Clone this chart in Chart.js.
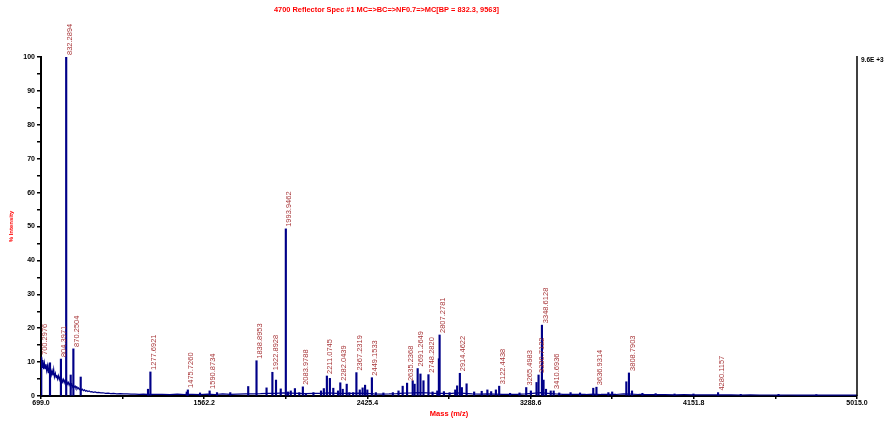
<!DOCTYPE html>
<html lang="en">
<head>
<meta charset="UTF-8">
<title>4700 Reflector Spec #1</title>
<script src="https://cdn.jsdelivr.net/npm/chart.js"></script>
<style>
  html, body { margin: 0; padding: 0; background: #fff; }
</style>
</head>
<body>
<canvas id="specChart" width="887" height="421"></canvas>
<script>
  // baseline / noise envelope of the spectrum (mass, % intensity)
  const baseMass = [699, 702, 705, 709, 713, 717, 721, 725, 729, 733, 737, 741, 746, 750, 754, 758, 762, 766, 770, 775,
    779, 783, 787, 792, 796, 800, 805, 809, 813, 818, 822, 826, 831, 835, 840, 844, 848, 853, 857, 862,
    866, 871, 875, 880, 884, 889, 894, 898, 903, 908, 913, 918, 923, 929, 935, 941, 947, 954, 961, 968,
    976, 985, 994, 1004, 1015, 1027, 1040, 1054, 1068, 1083, 1100, 1118, 1136, 1155, 1175, 1196, 1218, 1240, 1262,
    1300, 1340, 1380, 1420, 1460, 1500, 1540, 1580, 1620, 1660, 1700, 1740, 1780, 1820, 1860, 1900, 1940, 1980,
    2020, 2060, 2100, 2140, 2180, 2220, 2260, 2300, 2340, 2380, 2420, 2460, 2500, 2540, 2580, 2620, 2660, 2700,
    2740, 2780, 2820, 2860, 2900, 2940, 2980, 3020, 3060, 3100, 3140, 3180, 3220, 3260, 3300, 3340, 3380, 3420,
    3460, 3500, 3540, 3580, 3620, 3660, 3700, 3740, 3780, 3820, 3860, 3900, 3950, 4000, 4050, 4100, 4150, 4200,
    4250, 4300, 4350, 4400, 4450, 4500, 4550, 4600, 4650, 4700, 4750, 4800, 4850, 4900, 4950, 5015];
  const baseInt = [9.0, 11.2, 8.4, 10.6, 7.9, 9.8, 8.1, 9.4, 7.5, 8.9, 6.9, 8.3, 7.0, 7.9, 6.3, 7.4, 6.1, 7.8, 5.6, 6.7,
    5.4, 6.2, 5.0, 6.0, 4.8, 5.5, 4.3, 5.2, 4.1, 4.9, 3.9, 4.6, 3.7, 4.4, 3.5, 4.0, 3.2, 3.8, 3.0, 3.5,
    2.7, 3.2, 2.6, 2.9, 2.3, 2.7, 2.1, 2.4, 1.9, 2.2, 1.7, 2.0, 1.6, 1.8, 1.4, 1.6, 1.3, 1.5, 1.2, 1.3,
    1.1, 1.2, 1.0, 1.05, 0.9, 0.95, 0.8, 0.85, 0.7, 0.75, 0.65, 0.7, 0.6, 0.62, 0.55, 0.58, 0.5, 0.55, 0.5,
    0.45, 0.5, 0.4, 0.55, 0.45, 0.5, 0.4, 0.55, 0.45, 0.6, 0.5, 0.55, 0.6, 0.65, 0.7, 0.8, 0.75, 0.9,
    0.85, 0.8, 0.7, 0.75, 0.8, 0.9, 0.8, 0.75, 0.8, 0.85, 0.75, 0.6, 0.55, 0.6, 0.7, 0.85, 0.9, 1.0,
    0.9, 0.8, 0.75, 0.7, 0.9, 0.8, 0.6, 0.55, 0.6, 0.55, 0.5, 0.45, 0.5, 0.6, 0.8, 1.0, 0.8, 0.6,
    0.5, 0.45, 0.5, 0.45, 0.55, 0.45, 0.5, 0.45, 0.6, 0.55, 0.45, 0.4, 0.38, 0.4, 0.35, 0.38, 0.35, 0.33,
    0.35, 0.32, 0.34, 0.3, 0.32, 0.3, 0.3, 0.28, 0.3, 0.28, 0.27, 0.28, 0.26, 0.27, 0.25, 0.25];

  // peaks (mass, % intensity)
  const peakMass = [700.2976, 746.6, 804.3971, 832.2894, 856.0, 870.2504, 909.0, 1265, 1277.6921, 1470, 1475.7260, 1540,
    1590.8734, 1630, 1700, 1795, 1838.8953, 1892, 1922.8928, 1942, 1967, 1993.9462, 2005, 2020, 2042, 2065,
    2083.9788, 2100, 2140, 2180, 2195, 2211.0745, 2227, 2245, 2270, 2282.0439, 2295, 2316, 2330, 2350,
    2367.2319, 2385, 2400, 2413, 2425, 2449.1533, 2470, 2510, 2560, 2590, 2612, 2635.2368, 2665, 2675,
    2691.2649, 2706, 2722, 2748.2820, 2770, 2795, 2803.5, 2807.2781, 2830, 2860, 2890, 2900, 2914.4622, 2925,
    2950, 2990, 3030, 3060, 3080, 3105, 3122.4438, 3180, 3230, 3265.4983, 3290, 3320, 3330.7122, 3348.6128,
    3357, 3370, 3395, 3410.6936, 3440, 3500, 3550, 3620, 3636.9314, 3700, 3720, 3795, 3808.7903, 3825,
    3880, 3950, 4050, 4150, 4280.1157, 4400, 4600, 4800];
  const peakInt = [11.5, 9.8, 10.9, 100, 6.2, 13.9, 5.6, 2.0, 7.1, 1.2, 1.8, 0.9,
    1.5, 1.0, 1.0, 2.8, 10.4, 2.4, 7.0, 4.7, 2.1, 49.3, 1.2, 1.5, 2.2, 1.0,
    2.7, 0.8, 1.0, 1.5, 2.2, 5.9, 5.2, 2.3, 1.5, 3.9, 2.0, 3.5, 1.0, 1.0,
    6.9, 1.8, 2.4, 3.2, 1.8, 5.4, 1.0, 0.9, 1.0, 1.5, 2.9, 3.8, 4.5, 3.5,
    8.1, 6.5, 4.5, 6.3, 1.2, 1.5, 11.0, 18.0, 1.3, 1.0, 1.8, 3.0, 6.7, 2.5,
    3.6, 1.2, 1.4, 1.8, 1.3, 1.8, 2.9, 0.8, 0.9, 2.5, 1.5, 4.0, 6.2, 20.9,
    4.7, 2.0, 1.5, 1.5, 0.9, 1.0, 0.9, 2.3, 2.6, 1.0, 1.2, 4.2, 6.8, 1.5,
    0.8, 0.7, 0.6, 0.6, 1.0, 0.5, 0.5, 0.4];

  // annotated peaks
  const peakLabels = ['700.2976', '804.3971', '832.2894', '870.2504', '1277.6921', '1475.7260', '1590.8734',
    '1838.8953', '1922.8928', '1993.9462', '2083.9788', '2211.0745', '2282.0439', '2367.2319', '2449.1533',
    '2635.2368', '2691.2649', '2748.2820', '2807.2781', '2914.4622', '3122.4438', '3265.4983', '3330.7122',
    '3348.6128', '3410.6936', '3636.9314', '3808.7903', '4280.1157'];

  const xTicks = [699.0, 1130.6, 1562.2, 1993.8, 2425.4, 2857.0, 3288.6, 3720.2, 4151.8, 4583.4, 5015.0];

  const FONT = '"Liberation Sans", Arial, sans-serif';
  const spectrumColor = '#000088';

  // title, right-hand scale bar and peak labels
  const decor = {
    id: 'decor',
    afterDraw(chart) {
      const ctx = chart.ctx;
      const area = chart.chartArea;
      const xs = chart.scales.x, ys = chart.scales.y;
      ctx.save();

      ctx.fillStyle = '#ff0000';
      ctx.font = 'bold 8px ' + FONT;
      ctx.textAlign = 'left';
      ctx.textBaseline = 'middle';
      ctx.fillText('4700 Reflector Spec #1 MC=>BC=>NF0.7=>MC[BP = 832.3, 9563]', 274, 10, 225);

      ctx.strokeStyle = '#000';
      ctx.lineWidth = 1.5;
      ctx.beginPath();
      ctx.moveTo(area.right, area.top - 1);
      ctx.lineTo(area.right, area.bottom);
      ctx.stroke();

      ctx.fillStyle = '#000';
      ctx.font = 'bold 6.5px ' + FONT;
      ctx.fillText('9.6E +3', area.right + 4, area.top + 3);

      ctx.fillStyle = '#a8373a';
      ctx.font = '7.5px ' + FONT;
      peakLabels.forEach(txt => {
        const idx = peakMass.indexOf(parseFloat(txt));
        if (idx < 0) return;
        const px = xs.getPixelForValue(peakMass[idx]);
        const py = ys.getPixelForValue(peakInt[idx]);
        ctx.save();
        ctx.translate(px + 3.5, py - 2);
        ctx.rotate(-Math.PI / 2);
        ctx.textAlign = 'left';
        ctx.textBaseline = 'middle';
        ctx.fillText(txt, 0, 0);
        ctx.restore();
      });
      ctx.restore();
    }
  };

  new Chart(document.getElementById('specChart'), {
    type: 'bar',
    data: {
      datasets: [
        {
          type: 'line',
          data: baseMass.map((m, i) => ({ x: m, y: baseInt[i] })),
          borderColor: spectrumColor,
          borderWidth: 1.2,
          pointRadius: 0,
          tension: 0
        },
        {
          type: 'bar',
          data: peakMass.map((m, i) => ({ x: m, y: peakInt[i] })),
          backgroundColor: spectrumColor,
          barThickness: 1.5
        }
      ]
    },
    options: {
      responsive: false,
      animation: false,
      layout: { padding: { top: 57, right: 30, left: 0, bottom: 0 } },
      plugins: { legend: { display: false }, tooltip: { enabled: false } },
      scales: {
        x: {
          type: 'linear',
          min: 699,
          max: 5015,
          offset: false,
          afterBuildTicks: s => { s.ticks = xTicks.map(v => ({ value: v })); },
          afterFit: s => { s.height = 25; },
          grid: { drawOnChartArea: false, offset: false, tickLength: 3, color: '#000', lineWidth: 1.5 },
          border: { color: '#000', width: 2 },
          ticks: {
            autoSkip: false,
            maxRotation: 0,
            padding: 0,
            color: '#000',
            font: { family: FONT, size: 7, weight: 'bold' },
            callback: (v, i) => i % 2 === 0 ? Number(v).toFixed(1) : ''
          },
          title: {
            display: true,
            text: 'Mass (m/z)',
            color: '#ff0000',
            font: { family: FONT, size: 7.5, weight: 'bold' },
            padding: { top: 0, bottom: 3 }
          }
        },
        y: {
          min: 0,
          max: 100,
          afterFit: s => { s.width = 41; },
          grid: { drawOnChartArea: false, tickLength: 4, color: '#000', lineWidth: 1.5 },
          border: { color: '#000', width: 2 },
          ticks: {
            stepSize: 5,
            padding: 2,
            color: '#000',
            font: { family: FONT, size: 7, weight: 'bold' },
            callback: v => v % 10 === 0 ? v : ''
          },
          title: {
            display: true,
            text: '% Intensity',
            color: '#ff0000',
            font: { family: FONT, size: 6, weight: 'bold' },
            padding: { top: 8, bottom: 0 }
          }
        }
      }
    },
    plugins: [decor]
  });
</script>
</body>
</html>
